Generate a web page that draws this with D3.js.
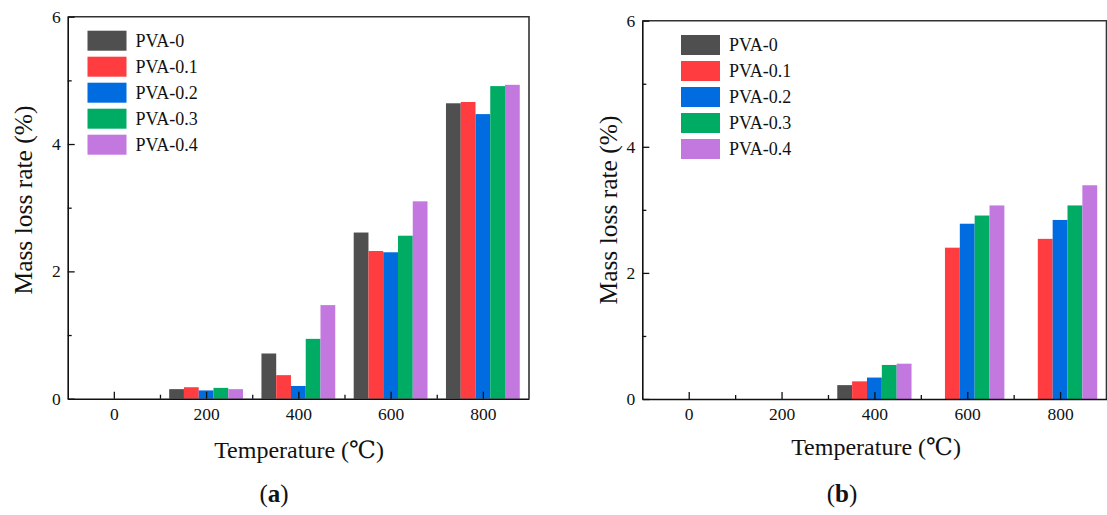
<!DOCTYPE html>
<html>
<head>
<meta charset="utf-8">
<script src="https://cdn.jsdelivr.net/npm/d3@7"></script>
<style>
  html, body { margin: 0; padding: 0; background: #fff; }
  svg { display: block; }
  svg text { font-family: 'Liberation Serif', 'DejaVu Serif', serif !important; fill: #111; }
</style>
</head>
<body>
<svg id="chart" width="1107" height="515"></svg>
<script>
// Temperatures on the x axis and the five PVA dosages
const temperatures = [0, 200, 400, 600, 800];
const seriesNames = ["PVA-0", "PVA-0.1", "PVA-0.2", "PVA-0.3", "PVA-0.4"];
const seriesColors = ["#4f4f4f", "#ff3c3f", "#006ce0", "#00ab64", "#c378e0"];

// Panel (a): mass loss rate (%) per series, one value per temperature
const a_PVA0  = [0, 0.15, 0.71, 2.61, 4.64];
const a_PVA01 = [0, 0.18, 0.37, 2.32, 4.66];
const a_PVA02 = [0, 0.13, 0.20, 2.30, 4.47];
const a_PVA03 = [0, 0.17, 0.94, 2.56, 4.91];
const a_PVA04 = [0, 0.15, 1.47, 3.10, 4.93];

// Panel (b)
const b_PVA0  = [0, 0, 0.22, 0, 0];
const b_PVA01 = [0, 0, 0.28, 2.40, 2.54];
const b_PVA02 = [0, 0, 0.34, 2.78, 2.84];
const b_PVA03 = [0, 0, 0.54, 2.91, 3.07];
const b_PVA04 = [0, 0, 0.56, 3.07, 3.39];

const xMajorTicks = [0, 200, 400, 600, 800];
const xMinorTicks = [100, 300, 500, 700];
const yMajorTicks = [0, 2, 4, 6];
const yMinorTicks = [1, 3, 5];

const FONT = "'Liberation Serif', 'DejaVu Serif', serif";
const svg = d3.select("#chart").attr("font-family", FONT);

function drawPanel(cfg) {
  const { left, right, top, bottom, series, legendX, legendY, ylabelX, ylabelY, xlabelX, xlabelY, tag, tagX } = cfg;
  const g = svg.append("g");

  const x = d3.scaleLinear().domain([-100, 900]).range([left, right]);
  const y = d3.scaleLinear().domain([0, 6]).range([bottom, top]);

  // Bars: each temperature group spans 160 units, five bars of 32 units
  const groupW = 160, barW = groupW / seriesNames.length;
  series.forEach((vals, si) => {
    g.append("g").selectAll("rect")
      .data(temperatures.map((t, i) => ({ t, v: vals[i] })).filter(d => d.v > 0))
      .join("rect")
      .attr("x", d => x(d.t - groupW / 2 + si * barW))
      .attr("width", d => x(d.t - groupW / 2 + (si + 1) * barW) - x(d.t - groupW / 2 + si * barW))
      .attr("y", d => y(d.v))
      .attr("height", d => y(0) - y(d.v))
      .attr("fill", seriesColors[si]);
  });

  // Frame top and right
  g.append("path")
    .attr("d", `M${left},${top}H${right}V${bottom}`)
    .attr("fill", "none").attr("stroke", "#333").attr("stroke-width", 1.6);

  // X axis: major ticks with labels, minor ticks without; ticks point inward
  g.append("g").attr("transform", `translate(0,${bottom})`)
    .call(d3.axisBottom(x).tickValues(xMajorTicks).tickSizeInner(-7).tickSizeOuter(0).tickPadding(9).tickFormat(d3.format("d")));
  g.append("g").attr("transform", `translate(0,${bottom})`)
    .call(d3.axisBottom(x).tickValues(xMinorTicks).tickSizeInner(-4).tickSizeOuter(0).tickFormat(""))
    .call(s => s.select(".domain").remove());

  g.append("g").attr("transform", `translate(${left},0)`)
    .call(d3.axisLeft(y).tickValues(yMajorTicks).tickSizeInner(-7).tickSizeOuter(0).tickPadding(7).tickFormat(d3.format("d")));
  g.append("g").attr("transform", `translate(${left},0)`)
    .call(d3.axisLeft(y).tickValues(yMinorTicks).tickSizeInner(-4).tickSizeOuter(0).tickFormat(""))
    .call(s => s.select(".domain").remove());

  g.selectAll(".domain").attr("stroke", "#111").attr("stroke-width", 1.6);
  g.selectAll(".tick line").attr("stroke", "#111").attr("stroke-width", 1.3);
  g.selectAll("g[font-family]").attr("font-family", FONT);
  g.selectAll(".tick text").attr("font-size", 17.5).attr("fill", "#111");

  // Legend
  const lg = g.append("g").attr("transform", `translate(${legendX},${legendY})`);
  seriesNames.forEach((name, i) => {
    lg.append("rect").attr("x", 0).attr("y", i * 26).attr("width", 39).attr("height", 20).attr("fill", seriesColors[i]);
    lg.append("text").attr("x", 48).attr("y", i * 26 + 10).attr("dy", "0.35em")
      .attr("font-size", 18).text(name);
  });

  // Axis titles
  g.append("text")
    .attr("transform", `translate(${ylabelX},${ylabelY}) rotate(-90)`)
    .attr("text-anchor", "middle").attr("dy", "0.35em")
    .attr("font-size", 25.5).text("Mass loss rate (%)");
  g.append("text")
    .attr("x", xlabelX).attr("y", xlabelY).attr("text-anchor", "middle").attr("dy", "0.35em")
    .attr("font-size", 24).text("Temperature (℃)");

  // Panel tag
  const t = g.append("text").attr("x", tagX).attr("y", 493).attr("text-anchor", "middle").attr("dy", "0.35em")
    .attr("font-size", 25);
  t.append("tspan").text("(");
  t.append("tspan").attr("font-weight", "bold").text(tag);
  t.append("tspan").text(")");
}

drawPanel({
  left: 67.7, right: 529, top: 16.7, bottom: 398.7,
  series: [a_PVA0, a_PVA01, a_PVA02, a_PVA03, a_PVA04],
  legendX: 87.5, legendY: 30.7,
  ylabelX: 23, ylabelY: 200,
  xlabelX: 299, xlabelY: 450,
  tag: "a", tagX: 274
});

drawPanel({
  left: 642.3, right: 1106.5, top: 20.7, bottom: 399,
  series: [b_PVA0, b_PVA01, b_PVA02, b_PVA03, b_PVA04],
  legendX: 681, legendY: 35,
  ylabelX: 608, ylabelY: 210,
  xlabelX: 876, xlabelY: 447,
  tag: "b", tagX: 842
});
</script>
</body>
</html>
